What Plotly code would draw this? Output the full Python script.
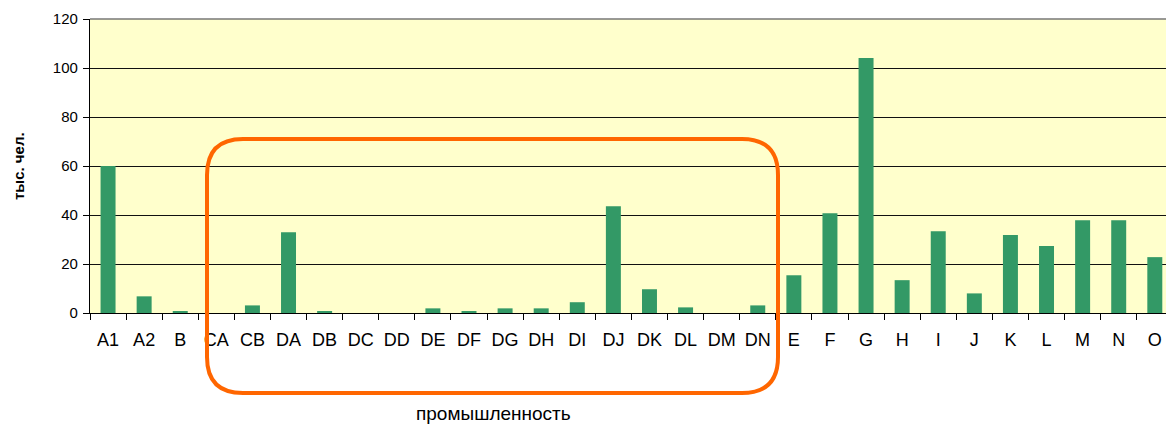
import plotly.graph_objects as go

categories = ["A1", "A2", "B", "CA", "CB", "DA", "DB", "DC", "DD", "DE", "DF", "DG", "DH",
              "DI", "DJ", "DK", "DL", "DM", "DN", "E", "F", "G", "H", "I", "J", "K", "L",
              "M", "N", "O"]
values = [60.0, 6.8, 0.7, 0.0, 3.1, 33.0, 0.7, 0.0, 0.0, 1.9, 0.7, 1.9, 1.9,
          4.4, 43.6, 9.7, 2.3, 0.0, 3.1, 15.4, 40.7, 104.1, 13.4, 33.4, 8.0, 31.8, 27.3,
          37.9, 37.9, 22.8]
y_ticks = [0, 20, 40, 60, 80, 100, 120]

W, H = 1166, 425
ML, MR, MT, MB = 90, 0, 19, 112
PW = W - ML - MR
PH = H - MT - MB

def px_x(x):
    return (x - ML) / PW

def px_y(y):
    return (H - MB - y) / PH

fig = go.Figure()
fig.add_trace(go.Bar(x=categories, y=values, marker=dict(color="#339966", line=dict(width=0)),
                     hoverinfo="x+y"))

# rounded rectangle highlight
x0, x1 = px_x(207), px_x(778)
yt, yb = px_y(139), px_y(393)
r = 36
rx, ry = r / PW, r / PH
path = (f"M {x0+rx},{yt} L {x1-rx},{yt} Q {x1},{yt} {x1},{yt-ry} "
        f"L {x1},{yb+ry} Q {x1},{yb} {x1-rx},{yb} "
        f"L {x0+rx},{yb} Q {x0},{yb} {x0},{yb+ry} "
        f"L {x0},{yt-ry} Q {x0},{yt} {x0+rx},{yt} Z")

fig.update_layout(
    width=W, height=H,
    margin=dict(l=ML, r=MR, t=MT, b=MB),
    paper_bgcolor="white",
    plot_bgcolor="#FFFFCC",
    bargap=0.585,
    showlegend=False,
    font=dict(family="Liberation Sans, Arial, sans-serif", color="black"),
    xaxis=dict(
        type="category",
        range=[-0.5, 29.31],
        autorange=False,
        showline=True, linecolor="black", linewidth=1.3,
        ticks="outside", ticklen=6, tickcolor="black", tickwidth=1,
        tickson="boundaries",
        showgrid=False,
        tickangle=0,
        tickfont=dict(size=18, color="black"),
        ticklabelstandoff=10,
    ),
    yaxis=dict(
        range=[0, 120],
        autorange=False,
        tickvals=y_ticks,
        ticktext=[str(v) for v in y_ticks],
        showline=True, linecolor="black", linewidth=1.3,
        ticks="outside", ticklen=6, tickcolor="black", tickwidth=1,
        showgrid=True, gridcolor="#111111", gridwidth=1.3,
        zeroline=False,
        tickfont=dict(size=15, color="black"),
        ticklabelstandoff=2,
    ),
    shapes=[
        dict(type="line", xref="paper", yref="paper", x0=0, x1=1, y0=1, y1=1,
             line=dict(color="#777777", width=1.3), layer="above"),
        dict(type="path", xref="paper", yref="paper", path=path,
             line=dict(color="#FF6600", width=4), fillcolor="rgba(0,0,0,0)", layer="above"),
    ],
    annotations=[
        dict(text="промышленность", xref="paper", yref="paper",
             x=px_x(493), y=px_y(425), xanchor="center", yanchor="bottom",
             borderpad=0, showarrow=False, font=dict(size=19, color="black")),
        dict(text="<b>тыс. чел.</b>", xref="paper", yref="paper",
             x=px_x(18), y=px_y(166), xanchor="center", yanchor="middle",
             textangle=-90, showarrow=False, font=dict(size=15, color="black")),
    ],
)

fig.write_html(
    "out.html",
    config={"displayModeBar": False},
    post_script="document.body.style.margin='0';document.body.style.overflow='hidden';",
)
